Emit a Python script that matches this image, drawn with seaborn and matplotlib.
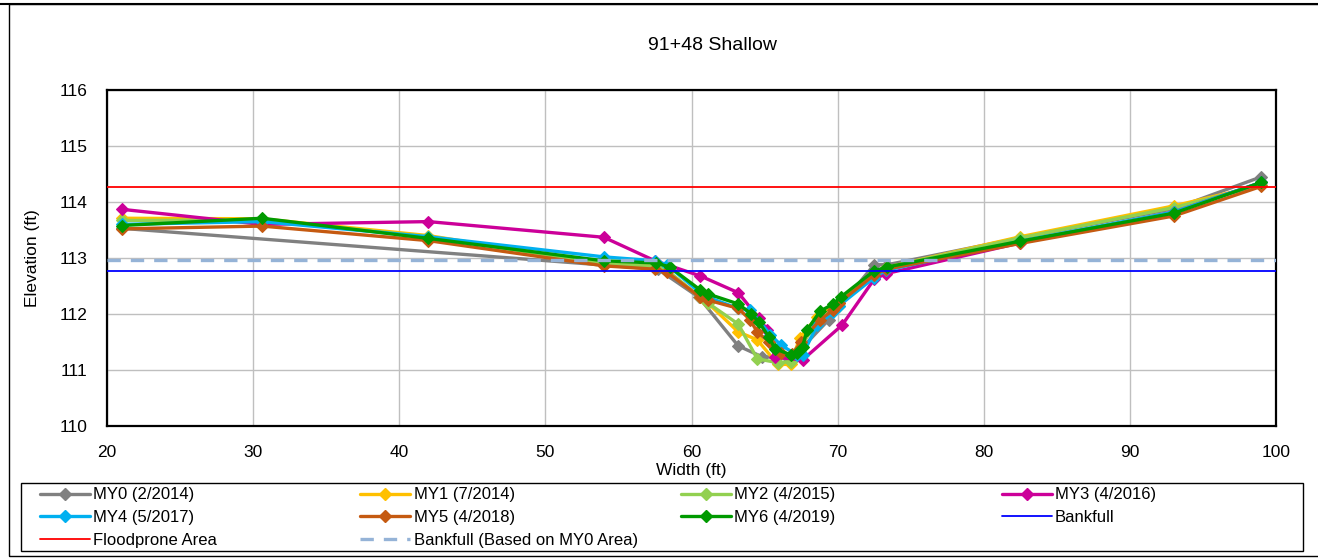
import matplotlib
matplotlib.use("Agg")
import matplotlib.pyplot as plt
import seaborn as sns
import numpy as np
import pandas as pd
from matplotlib.lines import Line2D
from matplotlib.patches import Rectangle

# ---------------- data ----------------
title = "91+48 Shallow"
x_label = "Width (ft)"
y_label = "Elevation (ft)"

my0_x = [21, 57.7, 60.5, 63.2, 64.8, 66.6, 67.4, 69.4, 72.5, 73.4, 82.5, 93, 99]
my0_y = [113.53, 112.8, 112.3, 111.43, 111.24, 111.21, 111.35, 111.9, 112.88, 112.88, 113.36, 113.88, 114.45]

my1_x = [21, 30.6, 42, 54, 57.5, 58.3, 60.6, 61.1, 63.2, 64.5, 65.9, 66.8, 67.4, 68.6, 70.1, 72.5, 73.3, 82.5, 93, 99]
my1_y = [113.71, 113.7, 113.4, 112.9, 112.85, 112.78, 112.3, 112.2, 111.68, 111.54, 111.1, 111.1, 111.57, 111.95, 112.2, 112.75, 112.83, 113.38, 113.93, 114.3]

my2_x = [21, 30.6, 42, 54, 57.5, 58.3, 60.6, 61.1, 63.2, 64.5, 65.9, 66.8, 67.4, 68.6, 70.1, 72.5, 73.3, 82.5, 93, 99]
my2_y = [113.67, 113.68, 113.38, 112.9, 112.85, 112.78, 112.3, 112.2, 111.82, 111.2, 111.13, 111.15, 111.4, 111.85, 112.15, 112.75, 112.83, 113.36, 113.9, 114.3]

my3_x = [21, 30.6, 42, 54, 57.5, 60.6, 63.2, 64.6, 65.2, 65.7, 67.6, 70.3, 72.5, 73.3, 82.5, 93, 99]
my3_y = [113.87, 113.6, 113.65, 113.37, 112.95, 112.68, 112.38, 111.93, 111.71, 111.23, 111.18, 111.8, 112.62, 112.72, 113.27, 113.82, 114.35]

my4_x = [21, 30.6, 42, 54, 57.5, 58.3, 60.6, 61.1, 63.2, 64.0, 65.4, 66.1, 67.2, 67.6, 68.6, 69.7, 70.1, 72.5, 73.3, 82.5, 93, 99]
my4_y = [113.6, 113.65, 113.38, 113.02, 112.95, 112.88, 112.38, 112.3, 112.1, 112.07, 111.63, 111.45, 111.27, 111.27, 111.8, 112.03, 112.15, 112.65, 112.78, 113.3, 113.82, 114.35]

my5_x = [21, 30.6, 42, 54, 57.5, 58.3, 60.6, 61.1, 63.2, 64.0, 64.5, 65.3, 66.1, 66.9, 67.5, 68.8, 69.7, 70.1, 72.5, 73.3, 82.5, 93, 99]
my5_y = [113.52, 113.57, 113.31, 112.86, 112.8, 112.75, 112.3, 112.25, 112.1, 111.9, 111.68, 111.5, 111.3, 111.28, 111.5, 111.9, 112.07, 112.2, 112.7, 112.8, 113.26, 113.75, 114.28]

my6_x = [21, 30.6, 42, 54, 57.6, 58.5, 60.6, 61.1, 63.2, 64.1, 64.6, 65.3, 65.7, 66.8, 67.2, 67.6, 67.9, 68.8, 69.7, 70.2, 72.5, 73.4, 82.5, 93, 99]
my6_y = [113.58, 113.71, 113.35, 112.95, 112.91, 112.84, 112.43, 112.36, 112.18, 112.0, 111.86, 111.59, 111.38, 111.27, 111.30, 111.41, 111.71, 112.05, 112.18, 112.30, 112.77, 112.84, 113.3, 113.8, 114.35]

bankfull_x = [20, 100]
bankfull_y = [112.77, 112.77]
floodprone_x = [20, 100]
floodprone_y = [114.27, 114.27]
bankfull_my0_x = [20, 100]
bankfull_my0_y = [112.96, 112.96]

series_labels = ["MY0 (2/2014)", "MY1 (7/2014)", "MY2 (4/2015)", "MY3 (4/2016)",
                 "MY4 (5/2017)", "MY5 (4/2018)", "MY6 (4/2019)"]
series_colors = ["#808080", "#FFC000", "#92D050", "#CC0099", "#00B0F0", "#C55A11", "#009A00"]
series_data = [(my0_x, my0_y), (my1_x, my1_y), (my2_x, my2_y), (my3_x, my3_y),
               (my4_x, my4_y), (my5_x, my5_y), (my6_x, my6_y)]

x_ticks = [20, 30, 40, 50, 60, 70, 80, 90, 100]
y_ticks = [110, 111, 112, 113, 114, 115, 116]

# ---------------- plot ----------------
sns.set_theme(style="white")
plt.rcParams['font.family'] = ['Liberation Sans', 'DejaVu Sans']
plt.rcParams['text.color'] = 'black'
plt.rcParams['axes.labelcolor'] = 'black'

W, H = 1318, 559
fig = plt.figure(figsize=(W / 100, H / 100), dpi=100)
ax = fig.add_axes([107 / W, 1 - 426 / H, (1276 - 107) / W, (426 - 90) / H])

handles = {}
for (xs, ys), lab, col in zip(series_data, series_labels, series_colors):
    df = pd.DataFrame({"x": xs, "y": ys})
    sns.lineplot(data=df, x="x", y="y", ax=ax, sort=False, color=col, lw=2.4,
                 marker="D", markersize=6.5, markeredgecolor=col, markeredgewidth=0.8,
                 legend=False, zorder=3)
    handles[lab] = Line2D([], [], color=col, lw=2.4, marker="D", markersize=6.5,
                          markeredgecolor=col)

sns.lineplot(x=bankfull_x, y=bankfull_y, ax=ax, color="#0000FF", lw=1.3, zorder=4, legend=False)
handles["Bankfull"] = Line2D([], [], color="#0000FF", lw=1.3)
sns.lineplot(x=floodprone_x, y=floodprone_y, ax=ax, color="#FF0000", lw=1.3, zorder=4, legend=False)
handles["Floodprone Area"] = Line2D([], [], color="#FF0000", lw=1.3)
sns.lineplot(x=bankfull_my0_x, y=bankfull_my0_y, ax=ax, color="#95B3D7", lw=2.4,
             zorder=4, legend=False, dashes=False, linestyle=(0, (4, 3)))
handles["Bankfull (Based on MY0 Area)"] = Line2D([], [], color="#95B3D7", lw=2.4,
                                                linestyle=(0, (4, 3)))

ax.set_xlim(20, 100)
ax.set_ylim(110, 116)
ax.set_xticks(x_ticks)
ax.set_yticks(y_ticks)
ax.grid(True, color="#BFBFBF", lw=1.0)
ax.set_axisbelow(True)
for s in ax.spines.values():
    s.set_color("black")
    s.set_linewidth(1.6)
    s.set_visible(True)
ax.tick_params(axis="both", labelsize=12.5, labelcolor="black", length=5, width=1,
               direction="out", pad=9, color="#808080")
ax.tick_params(axis="x", pad=9)
ax.set_xlabel(x_label, fontsize=12.5, labelpad=2, color="black")
ax.set_ylabel(y_label, fontsize=12.5, labelpad=14, color="black")

fig.text(713 / W, 1 - 45 / H, title, ha="center", va="center", fontsize=14, color="black")

# outer chart border
fig.patches.append(Rectangle((9 / W, 1 - 556 / H), 1.0, (556 - 4) / H, transform=fig.transFigure,
                             fill=False, edgecolor="black", lw=1.0))
fig.lines.append(Line2D([0, 1], [1 - 3.5 / H, 1 - 3.5 / H], transform=fig.transFigure,
                        color="black", lw=1.5))

# legend frame
fig.patches.append(Rectangle((21 / W, 1 - 551 / H), (1303 - 21) / W, (551 - 483) / H,
                             transform=fig.transFigure, fill=False, edgecolor="black", lw=1.0))

legend_rows = [["MY0 (2/2014)", "MY1 (7/2014)", "MY2 (4/2015)", "MY3 (4/2016)"],
               ["MY4 (5/2017)", "MY5 (4/2018)", "MY6 (4/2019)", "Bankfull"],
               ["Floodprone Area", "Bankfull (Based on MY0 Area)"]]
col_x = [37, 358, 678, 999]
for ci, cx in enumerate(col_x):
    labs = [r[ci] for r in legend_rows if ci < len(r)]
    leg = fig.legend([handles[l] for l in labs], labs, loc="upper left",
                     bbox_to_anchor=(cx / W, 1 - 485 / H), frameon=False, fontsize=12,
                     handlelength=3.0, handletextpad=0.2, labelspacing=0.45,
                     borderpad=0.15, borderaxespad=0)
    for t in leg.get_texts():
        t.set_color("black")

fig.savefig("out.png", dpi=100)
